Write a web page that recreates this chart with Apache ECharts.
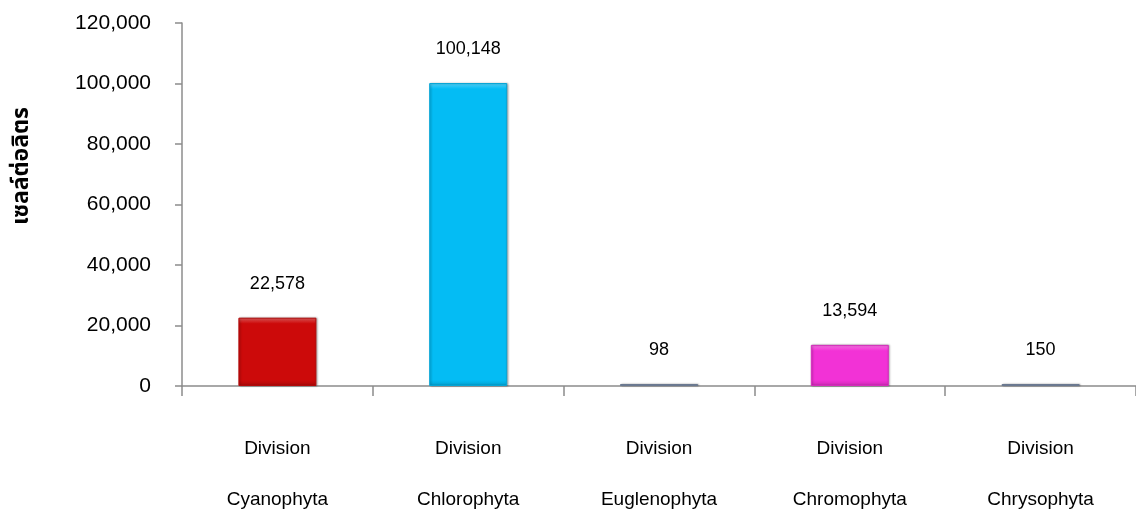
<!DOCTYPE html>
<html>
<head>
<meta charset="utf-8">
<script src="https://cdn.jsdelivr.net/npm/echarts@6/dist/echarts.min.js"></script>
<style>
  html, body { margin: 0; padding: 0; background: #fff; }
  #chart { width: 1136px; height: 522px; }
</style>
</head>
<body>
<div id="chart"></div>
<script>
// Phytoplankton cell density by division
const categories = [
  'Division\nCyanophyta',
  'Division\nChlorophyta',
  'Division\nEuglenophyta',
  'Division\nChromophyta',
  'Division\nChrysophyta'
];
const cellsPerLitre = [22578, 100148, 98, 13594, 150];
const barColors = ['#cc0a0a', '#04bcf4', '#7a8aa4', '#f232d6', '#7a8aa4'];
const yTicks = { min: 0, max: 120000, interval: 20000 };
const yAxisTitle = 'เซลล์ต่อลิตร';

const GRID = { left: 182, right: 0, top: 23, bottom: 136 };
const plotHeight = 522 - GRID.top - GRID.bottom;
const labelFont = "'Liberation Sans', Arial, sans-serif";

function shade(hex, f) {
  const n = parseInt(hex.slice(1), 16);
  const ch = [(n >> 16) & 255, (n >> 8) & 255, n & 255];
  const m = v => Math.max(0, Math.min(255, Math.round(f < 0 ? v * (1 + f) : v + (255 - v) * f)));
  return 'rgb(' + ch.map(m).join(',') + ')';
}

// Bevelled bar: lighter rim at the top, darker rim at the bottom
function barStyle(c, value) {
  const h = Math.max(2, value / yTicks.max * plotHeight);
  const rim = Math.min(0.45, 6 / h);
  return {
    color: {
      type: 'linear', x: 0, y: 0, x2: 0, y2: 1,
      colorStops: [
        { offset: 0, color: shade(c, 0.35) },
        { offset: rim * 0.5, color: shade(c, 0.15) },
        { offset: rim, color: c },
        { offset: 1 - rim, color: c },
        { offset: 1, color: shade(c, -0.15) }
      ]
    },
    borderColor: shade(c, -0.12),
    borderWidth: 1,
    shadowColor: 'rgba(0,0,0,0.3)',
    shadowBlur: 2,
    shadowOffsetX: 1
  };
}

const chart = echarts.init(document.getElementById('chart'), null, { renderer: 'canvas' });
chart.setOption({
  animation: false,
  grid: Object.assign({ containLabel: false, outerBoundsMode: 'none' }, GRID),
  graphic: [{
    type: 'text',
    x: 23, y: 166,
    rotation: Math.PI / 2,
    style: {
      text: yAxisTitle,
      fill: '#000',
      font: "bold 23px 'Noto Sans Thai', 'DejaVu Sans', sans-serif",
      align: 'center',
      verticalAlign: 'middle'
    }
  }],
  xAxis: {
    type: 'category',
    data: categories,
    axisLine: { lineStyle: { color: '#8c8c8c', width: 1.5 } },
    axisTick: { show: true, alignWithLabel: false, length: 10, lineStyle: { color: '#8c8c8c', width: 1.5 } },
    axisLabel: {
      color: '#000', fontFamily: labelFont, fontSize: 19, lineHeight: 51, margin: 37, interval: 0
    }
  },
  yAxis: {
    type: 'value',
    min: yTicks.min, max: yTicks.max, interval: yTicks.interval,
    axisLine: { show: true, lineStyle: { color: '#8c8c8c', width: 1.5 } },
    axisTick: { show: true, length: 7, lineStyle: { color: '#8c8c8c', width: 1.5 } },
    splitLine: { show: false },
    axisLabel: {
      color: '#000', fontFamily: labelFont, fontSize: 21, margin: 31,
      formatter: v => v.toLocaleString('en-US')
    }
  },
  series: [{
    type: 'bar',
    barWidth: 78,
    barMinHeight: 2,
    data: cellsPerLitre.map((v, i) => ({ value: v, itemStyle: barStyle(barColors[i], v) })),
    label: {
      show: true, position: 'top', distance: 25,
      color: '#000', fontFamily: labelFont, fontSize: 18,
      formatter: p => p.value.toLocaleString('en-US')
    }
  }]
});
</script>
</body>
</html>
